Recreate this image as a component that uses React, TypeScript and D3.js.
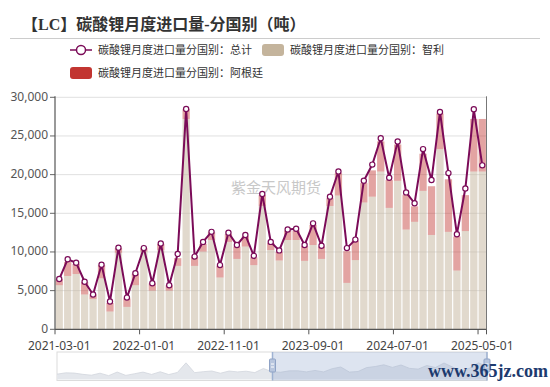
import * as d3 from 'd3'

// 2021-03 .. 2025-05, one category per month
const MONTHS = d3.timeMonth
  .range(new Date(2021, 2, 1), new Date(2025, 5, 1))
  .map(d3.timeFormat('%Y-%m-%d'))

// 智利 (tonnes)
const CHILE = [
  5700, 6900, 7150, 4500, 3900, 6600, 2300, 9900, 2900, 5700,
  10050, 5000, 10250, 5000, 8200, 27200, 8200, 10050, 11550, 6700,
  11300, 9100, 10700, 8300, 15950, 10250, 8900, 11550, 11550, 8850,
  10900, 9100, 15950, 17300, 6000, 8950, 16400, 17150, 20400, 15700,
  19200, 12900, 13900, 17900, 12200, 23300, 12600, 7600, 12700, 20400,
  20400,
]

// 阿根廷 (tonnes)
const ARGENTINA = [
  800, 1800, 1300, 1600, 600, 1700, 1100, 600, 1100, 1500,
  450, 950, 800, 700, 1000, 1300, 1200, 1000, 1000, 1500,
  1000, 1600, 1300, 1000, 1400, 900, 1100, 1200, 1200, 1900,
  2600, 1600, 1000, 2900, 4100, 2500, 2500, 3400, 3900, 3600,
  4700, 4500, 2000, 4800, 6300, 4600, 6800, 4400, 4650, 6800,
  6800,
]

// 总计 (tonnes)
const TOTAL = [
  6500, 9050, 8600, 6150, 4500, 8350, 3600, 10550, 4100, 7250,
  10500, 5950, 11100, 5700, 9750, 28500, 9400, 11300, 12600, 8300,
  12500, 10900, 12200, 9500, 17500, 11300, 10200, 12900, 13000, 10900,
  13700, 10800, 17150, 20400, 10500, 11600, 19200, 21300, 24700, 19600,
  24300, 17700, 16300, 23300, 19300, 28100, 20200, 12300, 18200, 28450,
  21200,
]

const Y_TICKS = [0, 5000, 10000, 15000, 20000, 25000, 30000]
const LABEL_EVERY = 10

const TITLE = '【LC】碳酸锂月度进口量-分国别（吨）'
const LEGEND_TOTAL = '碳酸锂月度进口量分国别：总计'
const LEGEND_CHILE = '碳酸锂月度进口量分国别：智利'
const LEGEND_ARG = '碳酸锂月度进口量分国别：阿根廷'

const W = 550
const H = 387
const LEFT = 55
const RIGHT = 486.5
const TOP = 97.3
const BOTTOM = 329.3

const LINE_COLOR = '#7b0b58'
const CHILE_COLOR = '#c4b49c'
const ARG_COLOR = '#c23531'
const FONT = "'Noto Sans', 'Noto Sans CJK SC', sans-serif"

export default function App() {
  const x = d3.scaleBand<string>()
    .domain(MONTHS)
    .range([LEFT, RIGHT])
    .paddingInner(0.14)
    .paddingOuter(0.07)
  const step = x.step()
  const bandStart = (i: number) => LEFT + step * i
  const cx = (m: string) => (x(m) ?? 0) + x.bandwidth() / 2

  const y = d3.scaleLinear().domain([0, 30000]).range([BOTTOM, TOP])

  const line = d3.line<number>()
    .x((_, i) => cx(MONTHS[i]))
    .y(d => y(d))

  // slider (dataZoom look-alike)
  const SL = { x0: 57, x1: 487, y0: 352, y1: 380.5, handle: 272.5 }
  const sx = d3.scaleLinear().domain([0, MONTHS.length - 1]).range([SL.x0, SL.x1])
  const sy = d3.scaleLinear().domain([0, d3.max(TOTAL) as number * 1.6]).range([SL.y1 - 3, SL.y0 + 2])
  const shadowArea = d3.area<number>()
    .x((_, i) => sx(i))
    .y0(SL.y1 - 1)
    .y1(d => sy(d))
  const shadowLine = d3.line<number>()
    .x((_, i) => sx(i))
    .y(d => sy(d))

  const fmt = d3.format(',')
  const labelIdx = MONTHS.map((_, i) => i).filter(i => i % LABEL_EVERY === 0)

  return (
    <svg width={W} height={H} style={{ position: 'absolute', left: 0, top: 0, background: '#fff' }} fontFamily={FONT}>
      {/* title */}
      <text x={22} y={30} fontSize={16} fontWeight="bold" fill="#333"
        fontFamily="'Liberation Serif', 'Noto Sans CJK SC', serif">{TITLE}</text>
      <line x1={10} x2={540} y1={38.5} y2={38.5} stroke="#ccc" strokeWidth={1} />

      {/* legend */}
      <g fontSize={11} fill="#333">
        <line x1={70} x2={92} y1={50} y2={50} stroke={LINE_COLOR} strokeWidth={1.5} />
        <circle cx={81} cy={50} r={4.5} fill="#fff" stroke={LINE_COLOR} strokeWidth={1.5} />
        <text x={98} y={54}>{LEGEND_TOTAL}</text>
        <rect x={262} y={44} width={22} height={12} rx={3} fill={CHILE_COLOR} />
        <text x={290} y={54}>{LEGEND_CHILE}</text>
        <rect x={70} y={67} width={22} height={12} rx={3} fill={ARG_COLOR} />
        <text x={98} y={77}>{LEGEND_ARG}</text>
      </g>

      {/* grid + y axis */}
      {Y_TICKS.map(t => (
        <g key={t}>
          {t > 0 && <line x1={LEFT} x2={RIGHT} y1={y(t)} y2={y(t)} stroke="#e0e0e0" />}
          <line x1={LEFT - 5} x2={LEFT} y1={y(t)} y2={y(t)} stroke="#666" />
          <text x={LEFT - 7} y={y(t) + 3.5} textAnchor="end" fontSize={12} fill="#555">{fmt(t)}</text>
        </g>
      ))}

      {/* watermark */}
      <text x={276} y={193} textAnchor="middle" fontSize={15} fill="#c8c8c8">紫金天风期货</text>

      {/* stacked bars */}
      {MONTHS.map((m, i) => (
        <g key={m}>
          <rect x={x(m)} width={x.bandwidth()} y={y(CHILE[i])} height={BOTTOM - y(CHILE[i])}
            fill={CHILE_COLOR} fillOpacity={0.5} />
          <rect x={x(m)} width={x.bandwidth()} y={y(CHILE[i] + ARGENTINA[i])}
            height={y(CHILE[i]) - y(CHILE[i] + ARGENTINA[i])}
            fill={ARG_COLOR} fillOpacity={0.45} />
        </g>
      ))}

      {/* total line */}
      <path d={line(TOTAL) ?? ''} fill="none" stroke={LINE_COLOR} strokeWidth={2} />
      {TOTAL.map((v, i) => (
        <circle key={i} cx={cx(MONTHS[i])} cy={y(v)} r={2.6} fill="#fff" stroke={LINE_COLOR} strokeWidth={1.2} />
      ))}

      {/* axes */}
      <line x1={LEFT} x2={LEFT} y1={TOP - 1} y2={BOTTOM} stroke="#555" strokeWidth={1.2} />
      <line x1={RIGHT} x2={RIGHT} y1={TOP - 1} y2={BOTTOM} stroke="#777" strokeWidth={1} />
      <line x1={LEFT} x2={RIGHT} y1={BOTTOM} y2={BOTTOM} stroke="#555" strokeWidth={1.2} />
      {[...labelIdx, MONTHS.length].map(i => (
        <line key={i} x1={bandStart(i)} x2={bandStart(i)} y1={BOTTOM} y2={BOTTOM + 5} stroke="#555" />
      ))}
      {labelIdx.map(i => (
        <text key={i} x={cx(MONTHS[i])} y={BOTTOM + 20.5} textAnchor="middle" fontSize={12} fill="#444">
          {MONTHS[i]}
        </text>
      ))}

      {/* data zoom slider */}
      <rect x={SL.x0} y={SL.y0} width={SL.x1 - SL.x0} height={SL.y1 - SL.y0} fill="#fff" stroke="#dcdcdc" />
      <path d={shadowArea(TOTAL) ?? ''} fill="#e4e7ec" />
      <path d={shadowLine(TOTAL) ?? ''} fill="none" stroke="#d2d6dd" strokeWidth={0.8} />
      <rect x={SL.handle} y={SL.y0} width={SL.x1 - SL.handle} height={SL.y1 - SL.y0} fill="#8fa6cc" fillOpacity={0.3} />
      <line x1={SL.handle} x2={SL.handle} y1={SL.y0} y2={SL.y1} stroke="#9eb2d2" strokeWidth={1.5} />
      <line x1={SL.x1} x2={SL.x1} y1={SL.y0} y2={SL.y1} stroke="#9eb2d2" strokeWidth={1.5} />
      {[SL.handle, SL.x1].map(hx => (
        <g key={hx}>
          <rect x={hx - 3} y={SL.y0 + 7} width={6} height={13} rx={1} fill="#b8c6de" stroke="#8fa3c6" />
          <line x1={hx - 1.5} x2={hx + 1.5} y1={SL.y0 + 12} y2={SL.y0 + 12} stroke="#fff" />
          <line x1={hx - 1.5} x2={hx + 1.5} y1={SL.y0 + 15} y2={SL.y0 + 15} stroke="#fff" />
        </g>
      ))}

      {/* site stamp */}
      <text x={428} y={377} fontSize={18} fontWeight="bold" fill="#1c3a6e"
        fontFamily="'Liberation Serif', serif">www.365jz.com</text>
    </svg>
  )
}
